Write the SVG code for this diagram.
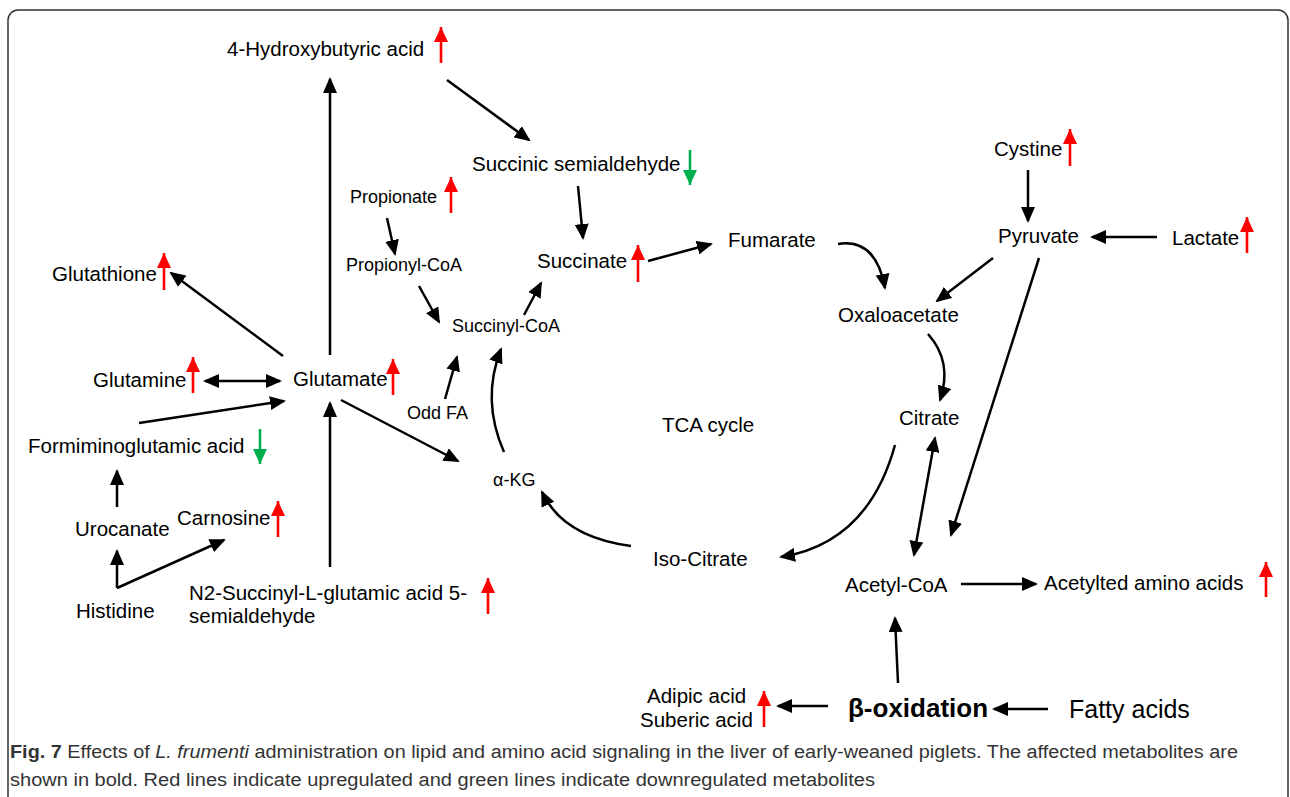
<svg xmlns="http://www.w3.org/2000/svg" width="1290" height="797" viewBox="0 0 1290 797">
<style>
.t{font-family:"Liberation Sans",Arial,sans-serif;font-size:20.5px;fill:#000}
.s{font-family:"Liberation Sans",Arial,sans-serif;font-size:18px;fill:#000}
.b{font-family:"Liberation Sans",Arial,sans-serif;font-size:26px;font-weight:bold;fill:#000}
.f{font-family:"Liberation Sans",Arial,sans-serif;font-size:25px;fill:#000}
.cap{font-family:"Liberation Sans",Arial,sans-serif;font-size:18px;fill:#333}
.c{fill:none;stroke:#000;stroke-width:2.5;marker-end:url(#ah)}
.d{fill:none;stroke:#000;stroke-width:2.5;marker-end:url(#ah2);marker-start:url(#ah2)}
.up{stroke:#ff0000;stroke-width:2.6;marker-end:url(#rh)}
.dn{stroke:#00b050;stroke-width:2.6;marker-end:url(#gh)}
</style>
<defs>
<marker id="ah" markerUnits="userSpaceOnUse" viewBox="0 0 16 14" markerWidth="16" markerHeight="14" refX="14" refY="7" orient="auto"><path d="M0,0 L16,7 L0,14 z" fill="#000"/></marker>
<marker id="ah2" markerUnits="userSpaceOnUse" viewBox="0 0 16 14" markerWidth="16" markerHeight="14" refX="14" refY="7" orient="auto-start-reverse"><path d="M0,0 L16,7 L0,14 z" fill="#000"/></marker>
<marker id="rh" markerUnits="userSpaceOnUse" viewBox="0 0 15 14" markerWidth="15" markerHeight="14" refX="15" refY="7" orient="auto"><path d="M0,0 L15,7 L0,14 z" fill="#ff0000"/></marker>
<marker id="gh" markerUnits="userSpaceOnUse" viewBox="0 0 15 14" markerWidth="15" markerHeight="14" refX="15" refY="7" orient="auto"><path d="M0,0 L15,7 L0,14 z" fill="#00b050"/></marker>
</defs>
<rect x="8" y="10" width="1280" height="820" rx="10" fill="#fff" stroke="#333" stroke-width="1.5"/>

<g id="connectors">
<path class="c" d="M330,355 L330,79"/>
<path class="c" d="M447,80 L529,140"/>
<path class="c" d="M578,186 L583,238"/>
<path class="c" d="M648,261 L711,244"/>
<path class="c" d="M838,244 Q876,238 885,288"/>
<path class="c" d="M928,334 Q953,362 940,400"/>
<path class="c" d="M993,258 L937,301"/>
<path class="c" d="M1028,170 L1028,221"/>
<path class="c" d="M1157,237 L1092,237"/>
<path class="c" d="M1039,258 L951,535"/>
<path class="d" d="M935,438 L914,555"/>
<path class="c" d="M895,445 Q868,543 781,557"/>
<path class="c" d="M631,546 Q563,537 542,492"/>
<path class="c" d="M504,452 Q481,400 501,349"/>
<path class="c" d="M524,315 L541,283"/>
<path class="c" d="M387,218 L395,254"/>
<path class="c" d="M419,286 L439,322"/>
<path class="c" d="M445,399 L457,357"/>
<path class="c" d="M341,400 L458,461"/>
<path class="c" d="M283,356 L171,273"/>
<path class="d" d="M205,381 L280,381"/>
<path class="c" d="M139,423 L284,401"/>
<path class="c" d="M330,567 L330,403"/>
<path class="c" d="M117,507 L117,471"/>
<path class="c" d="M117,588 L117,551"/>
<path class="c" d="M117,588 L224,540"/>
<path class="c" d="M961,584 L1036,584"/>
<path class="c" d="M898,683 L895,618"/>
<path class="c" d="M1048,709 L994,709"/>
<path class="c" d="M828,706 L778,706"/>
</g>

<g id="n-hydroxybutyric"><text class="t" x="227" y="56" font-size="20.8">4-Hydroxybutyric acid</text><line class="up" x1="441" y1="63" x2="441" y2="27"/></g>
<g id="n-ssa"><text class="t" x="472" y="171">Succinic semialdehyde</text><line class="dn" x1="690" y1="150" x2="690" y2="185"/></g>
<g id="n-propionate"><text class="s" x="350" y="203">Propionate</text><line class="up" x1="451" y1="213" x2="451" y2="177"/></g>
<g id="n-propionylcoa"><text class="s" x="346" y="271">Propionyl-CoA</text></g>
<g id="n-succinate"><text class="t" x="537" y="268">Succinate</text><line class="up" x1="638" y1="282" x2="638" y2="245"/></g>
<g id="n-succinylcoa"><text class="s" x="452" y="332">Succinyl-CoA</text></g>
<g id="n-fumarate"><text class="t" x="728" y="247">Fumarate</text></g>
<g id="n-cystine"><text class="t" x="994" y="156">Cystine</text><line class="up" x1="1070" y1="166" x2="1070" y2="129"/></g>
<g id="n-pyruvate"><text class="t" x="998" y="243">Pyruvate</text></g>
<g id="n-lactate"><text class="t" x="1172" y="245">Lactate</text><line class="up" x1="1247" y1="253" x2="1247" y2="217"/></g>
<g id="n-oxaloacetate"><text class="t" x="838" y="322">Oxaloacetate</text></g>
<g id="n-citrate"><text class="t" x="899" y="425">Citrate</text></g>
<g id="n-tca"><text class="t" x="662" y="432">TCA cycle</text></g>
<g id="n-glutathione"><text class="t" x="52" y="281">Glutathione</text><line class="up" x1="164" y1="290" x2="164" y2="253"/></g>
<g id="n-glutamine"><text class="t" x="93" y="387">Glutamine</text><line class="up" x1="193" y1="393" x2="193" y2="357"/></g>
<g id="n-glutamate"><text class="t" x="293" y="386">Glutamate</text><line class="up" x1="393" y1="395" x2="393" y2="359"/></g>
<g id="n-oddfa"><text class="s" x="407" y="419">Odd FA</text></g>
<g id="n-formimino"><text class="t" x="28" y="453" font-size="20.8">Formiminoglutamic acid</text><line class="dn" x1="260" y1="429" x2="260" y2="464"/></g>
<g id="n-akg"><text class="s" x="493" y="486">α-KG</text></g>
<g id="n-urocanate"><text class="t" x="75" y="536">Urocanate</text></g>
<g id="n-carnosine"><text class="t" x="177" y="525">Carnosine</text><line class="up" x1="278" y1="537" x2="278" y2="501"/></g>
<g id="n-histidine"><text class="t" x="76" y="618">Histidine</text></g>
<g id="n-n2"><text class="t" x="189" y="600" font-size="20.9">N2-Succinyl-L-glutamic acid 5-</text><text class="t" x="189" y="623" font-size="20.9">semialdehyde</text><line class="up" x1="488" y1="614" x2="488" y2="578"/></g>
<g id="n-isocitrate"><text class="t" x="653" y="566">Iso-Citrate</text></g>
<g id="n-acetylcoa"><text class="t" x="845" y="592">Acetyl-CoA</text></g>
<g id="n-acetylted"><text class="t" x="1044" y="590" font-size="20.9">Acetylted amino acids</text><line class="up" x1="1266" y1="597" x2="1266" y2="562"/></g>
<g id="n-adipic"><text class="t" x="647" y="703">Adipic acid</text><text class="t" x="640" y="727">Suberic acid</text><line class="up" x1="764" y1="727" x2="764" y2="691"/></g>
<g id="n-boxidation"><text class="b" x="848" y="717">β-oxidation</text></g>
<g id="n-fatty"><text class="f" x="1069" y="718">Fatty acids</text></g>

<g id="caption">
<text class="cap" x="10" y="758" textLength="1228" lengthAdjust="spacingAndGlyphs"><tspan font-weight="bold">Fig. 7</tspan> Effects of <tspan font-style="italic">L. frumenti</tspan> administration on lipid and amino acid signaling in the liver of early-weaned piglets. The affected metabolites are</text>
<text class="cap" x="10" y="786" textLength="865" lengthAdjust="spacingAndGlyphs">shown in bold. Red lines indicate upregulated and green lines indicate downregulated metabolites</text>
</g>
</svg>
